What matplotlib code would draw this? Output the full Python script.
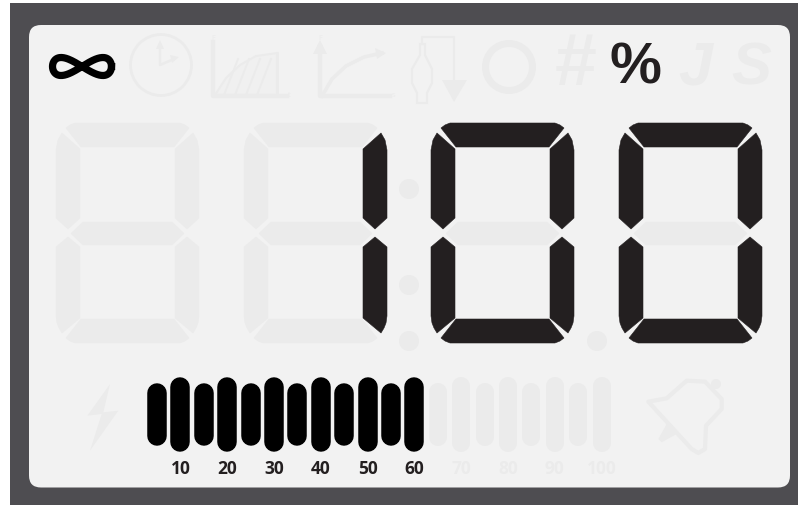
import numpy as np
import matplotlib
matplotlib.use('Agg')
import matplotlib.pyplot as plt
from matplotlib.patches import Polygon, Circle, FancyBboxPatch, Rectangle

# what the display shows
digits = ['', '1', '0', '0']
bar_labels = ['10', '20', '30', '40', '50', '60', '70', '80', '90', '100']
bars_on = 12
bars_total = 20
percent_on = True
infinity_on = True

SEGMENTS = {'': '', '0': 'abcdef', '1': 'bc'}

DARK = '#4e4d51'
PANEL = '#f2f2f2'
OFF = '#ebebeb'
ON = '#231f20'

# one digit in its own box, 143 x 220 px
SEG_SHAPES = {
    'a': [(10, 5), (14, 2), (19, 0), (124, 0), (129, 2), (133, 5), (118, 24), (25, 24)],
    'f': [(6, 10), (2, 17), (0, 27), (0, 95), (12, 106), (24, 95), (24, 26)],
    'e': [(12, 114), (0, 124), (0, 193), (1, 200), (3, 205), (6, 210), (24, 195), (24, 124)],
    'g': [(15, 110.5), (27, 99), (116, 99), (128, 110.5), (116, 122), (27, 122)],
}
SEG_SHAPES['b'] = [(143 - x, y) for x, y in SEG_SHAPES['f']]
SEG_SHAPES['c'] = [(143 - x, y) for x, y in SEG_SHAPES['e']]
SEG_SHAPES['d'] = [(x, 220 - y) for x, y in SEG_SHAPES['a']]

digit_x = [56, 244, 431, 619]
digit_y = 124

fig = plt.figure(figsize=(7.98, 5.06), dpi=100)
ax = fig.add_axes([0, 0, 1, 1])
ax.set_xlim(0, 798)
ax.set_ylim(506, 0)
ax.axis('off')

# housing and panel
ax.add_patch(Rectangle((10, 4), 788, 502, fc=DARK, ec='none'))
ax.add_patch(FancyBboxPatch((41, 38), 737, 438.5, boxstyle='round,pad=12,rounding_size=12',
                            fc=PANEL, ec='none'))

# seven segment digits
for d, x0 in zip(digits, digit_x):
    for name, pts in SEG_SHAPES.items():
        col = ON if name in SEGMENTS[d] else OFF
        ax.add_patch(Polygon([(x0 + x, digit_y + y) for x, y in pts], closed=True,
                             fc=col, ec=col, lw=0.4, joinstyle='round', zorder=3))

# colon and decimal dots
for x, y in [(409, 190), (409, 286), (409, 342), (597, 342)]:
    ax.add_patch(Circle((x, y), 10, fc=OFF, ec='none'))

# level bars
for i in range(bars_total):
    xc = 157 + i * 23.4
    tall = i % 2 == 1
    y0, y1 = (378, 453) if tall else (384, 447)
    on = i < bars_on
    col = 'black' if on else OFF
    w = 19.5 if on else 18
    ax.plot([xc, xc], [y0 + w / 2, y1 - w / 2], color=col, lw=w * 0.72,
            solid_capstyle='round', zorder=3)

# scale labels
for i, lab in enumerate(bar_labels):
    xc = 157 + (2 * i + 1) * 23.4
    on = (2 * i + 1) < bars_on
    ax.text(xc, 469.5, lab, ha='center', va='center', family='Open Sans', fontweight='bold',
            fontsize=12.5, color=ON if on else OFF)

# infinity
t = np.linspace(0, 2 * np.pi, 200)
ax.plot(82 + 29.5 * np.cos(t), 67.5 + 9 * np.sin(2 * t), color='black' if infinity_on else OFF,
        lw=5.2, zorder=3)

# clock
ax.add_patch(Circle((161, 66), 30.5, fc='none', ec=OFF, lw=2))
ax.plot([160, 160, 174], [46, 66, 60], color=OFF, lw=1.8)
ax.add_patch(Polygon([(160, 41), (156, 50), (164, 50)], fc=OFF, ec='none'))
ax.add_patch(Polygon([(179, 58), (170, 56), (172, 64)], fc=OFF, ec='none'))

# curve icons
curve_x = [215, 226, 240, 256, 277]
curve_y = [96, 79, 66, 57, 54]
ax.fill(curve_x + [277], curve_y + [96], fc='#f0f0f0', ec=OFF, lw=1.5)
for hx in [232, 243, 254, 265]:
    ax.plot([hx - 8, hx + 6], [96, 60], color=OFF, lw=1.4)
ax.plot([277, 277], [54, 96], color=OFF, lw=2)
ax.plot([213, 213, 287], [43, 97, 97], color=OFF, lw=3.2)

ax.plot([320, 320, 390], [48, 97, 97], color=OFF, lw=3.2)
ax.plot([322, 332, 346, 364, 382], [97, 80, 67, 58, 54], color=OFF, lw=2.6)
ax.add_patch(Polygon([(320, 41), (313, 55), (327, 55)], fc=OFF, ec='none'))
ax.add_patch(Polygon([(386, 54), (375, 49), (377, 60)], fc=OFF, ec='none'))
for x, y, s in [(213, 38, 'F'), (289, 95, 't'), (320, 38, 'F'), (393, 95, 's')]:
    ax.text(x, y, s, ha='center', va='center', fontsize=5, color=OFF)

# tool with arrow
ax.plot([422, 422, 454, 454], [45, 37.5, 37.5, 82], color=OFF, lw=1.6)
ax.add_patch(Polygon([(442, 81), (467, 81), (454, 103)], fc=OFF, ec='none'))
ax.add_patch(Polygon([(420, 45), (425, 45), (425, 56), (432, 70), (432, 84), (427, 94),
                      (427, 104), (417, 104), (417, 94), (412, 84), (412, 70), (420, 56)],
                     fill=False, ec=OFF, lw=1.6))

# circle, hash, letters
ax.add_patch(Circle((509, 68), 23.5, fc='none', ec=OFF, lw=5))
ax.text(574, 65, '#', ha='center', va='center', family='Liberation Sans', fontweight='bold',
        fontsize=54, style='italic', color=OFF)
ax.text(695, 69, 'J', ha='center', va='center', family='Liberation Sans', fontweight='bold',
        fontsize=44, style='italic', color=OFF)
ax.text(751, 69, 'S', ha='center', va='center', family='Liberation Sans', fontweight='bold',
        fontsize=43, style='italic', color=OFF)
ax.text(635, 68.5, '%', ha='center', va='center', family='Liberation Sans',
        fontweight='bold', fontsize=42, color=ON if percent_on else OFF, zorder=3)

# lightning
bolt = [(150, 75), (82, 170), (125, 165), (90, 275), (175, 155), (130, 160)]
ax.add_patch(Polygon([(60 + x / 3, 360 + y / 3) for x, y in bolt], fc=OFF, ec='none'))

# bell
bell = [(715, 128), (770, 118), (830, 65), (885, 68), (935, 120), (935, 150), (888, 200),
        (885, 270), (865, 282), (845, 270)]
ax.add_patch(Polygon([(410 + x / 3, 360 + y / 3) for x, y in bell], fill=False, ec=OFF, lw=3,
                     joinstyle='round'))
ax.add_patch(Circle((410 + 918 / 3, 360 + 75 / 3), 5, fc=OFF, ec='none'))
ax.add_patch(Polygon([(410 + x / 3, 360 + y / 3) for x, y in
                      [(770, 195), (800, 225), (755, 250), (745, 240)]], fc=OFF, ec='none'))

fig.savefig('out.png', dpi=100, facecolor='white')
